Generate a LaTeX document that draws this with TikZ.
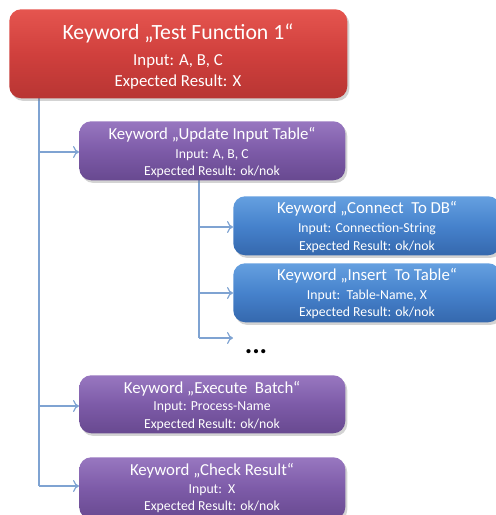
\documentclass[tikz,border=0pt]{standalone}
\usepackage{fontspec}
\setmainfont{Carlito}
\usetikzlibrary{arrows.meta,shadows}
\definecolor{redtop}{HTML}{E5554F}
\definecolor{redmid}{HTML}{D0403D}
\definecolor{redbot}{HTML}{B83533}
\definecolor{purtop}{HTML}{9877C0}
\definecolor{purmid}{HTML}{7D5BA8}
\definecolor{purbot}{HTML}{684990}
\definecolor{blutop}{HTML}{65A0E0}
\definecolor{blumid}{HTML}{4682CC}
\definecolor{blubot}{HTML}{3568AE}
\definecolor{linec}{HTML}{7FA3D2}
\tikzset{
  kbox/.style={rounded corners=9pt, draw=none, anchor=north west, inner sep=0pt,
    drop shadow={shadow xshift=1.5pt, shadow yshift=-2pt, opacity=0.35}},
  redbox/.style={kbox, top color=redtop, bottom color=redbot, middle color=redmid},
  purbox/.style={kbox, top color=purtop, bottom color=purbot, middle color=purmid},
  blubox/.style={kbox, top color=blutop, bottom color=blubot, middle color=blumid},
  ttl/.style={text=white, anchor=base, inner sep=0pt, font=\fontsize{12.6}{14}\selectfont},
  bigttl/.style={ttl, font=\fontsize{16.3}{18}\selectfont},
  sub/.style={text=white, anchor=base, inner sep=0pt, font=\fontsize{10.3}{12}\selectfont},
  bigsub/.style={sub, font=\fontsize{12.6}{14}\selectfont},
  conn/.style={draw=linec, line width=0.9pt, -{To[length=4.5pt,width=9pt]}},
  trunk/.style={draw=linec, line width=0.9pt}
}
\begin{document}
\begin{tikzpicture}[x=0.75pt,y=-0.75pt]
\useasboundingbox (0,0) rectangle (496,515);
% trunk lines
\coordinate (t0) at (39,98);
\coordinate (t1) at (39,152);
\coordinate (t2) at (39,406);
\coordinate (t3) at (39,486);
\coordinate (s0) at (199,180);
\coordinate (s1) at (199,227);
\coordinate (s2) at (199,293);
\coordinate (s3) at (199,338);
\coordinate (s3e) at (233,338);
\draw[trunk] (t0) -- (t3);
\draw[trunk] (s0) -- (s3);
% boxes
\node[redbox, minimum width=338*0.75pt, minimum height=89*0.75pt] (f1) at (9,9) {};
\node[purbox, minimum width=266*0.75pt, minimum height=59*0.75pt] (uit) at (79,121) {};
\node[blubox, minimum width=267*0.75pt, minimum height=59*0.75pt] (cdb) at (233,196) {};
\node[blubox, minimum width=267*0.75pt, minimum height=59*0.75pt] (itt) at (233,263) {};
\node[purbox, minimum width=266*0.75pt, minimum height=58*0.75pt] (eb) at (79,375) {};
\node[purbox, minimum width=266*0.75pt, minimum height=62*0.75pt] (cr) at (79,457) {};
% connectors
\draw[conn] (t1) -- (uit.west |- t1);
\draw[conn] (t2) -- (eb.west |- t2);
\draw[conn] (t3) -- (cr.west |- t3);
\draw[conn] (s1) -- (cdb.west |- s1);
\draw[conn] (s2) -- (itt.west |- s2);
\draw[conn] (s3) -- (s3e);
% texts
\node[bigttl] (f1a) at (178,39) {Keyword „Test Function 1“};
\node[bigsub] (f1b) at (178,65) {Input: A, B, C};
\node[bigsub] (f1c) at (178,86) {Expected Result: X};
\node[ttl] (uita) at (212,139) {Keyword „Update Input Table“};
\node[sub] (uitb) at (212,158) {Input: A, B, C};
\node[sub] (uitc) at (212,175.5) {Expected Result: ok/nok};
\node[ttl] (cdba) at (367,213) {Keyword „Connect\ \ To DB“};
\node[sub] (cdbb) at (367,232.5) {Input: Connection-String};
\node[sub] (cdbc) at (367,250) {Expected Result: ok/nok};
\node[ttl] (itta) at (367,280.5) {Keyword „Insert\ \ To Table“};
\node[sub] (ittb) at (367,299) {Input:\ \ Table-Name, X};
\node[sub] (ittc) at (367,316.5) {Expected Result: ok/nok};
\node[ttl] (eba) at (212,393) {Keyword „Execute\ \ Batch“};
\node[sub] (ebb) at (212,410.5) {Input: Process-Name};
\node[sub] (ebc) at (212,428) {Expected Result: ok/nok};
\node[ttl] (cra) at (212,475) {Keyword „Check Result“};
\node[sub] (crb) at (212,493) {Input:\ \ X};
\node[sub] (crc) at (212,510) {Expected Result: ok/nok};
\node[anchor=base, inner sep=0pt, font=\fontsize{21}{24}\selectfont\bfseries] (dots) at (256,353) {...};
\end{tikzpicture}
\end{document}
